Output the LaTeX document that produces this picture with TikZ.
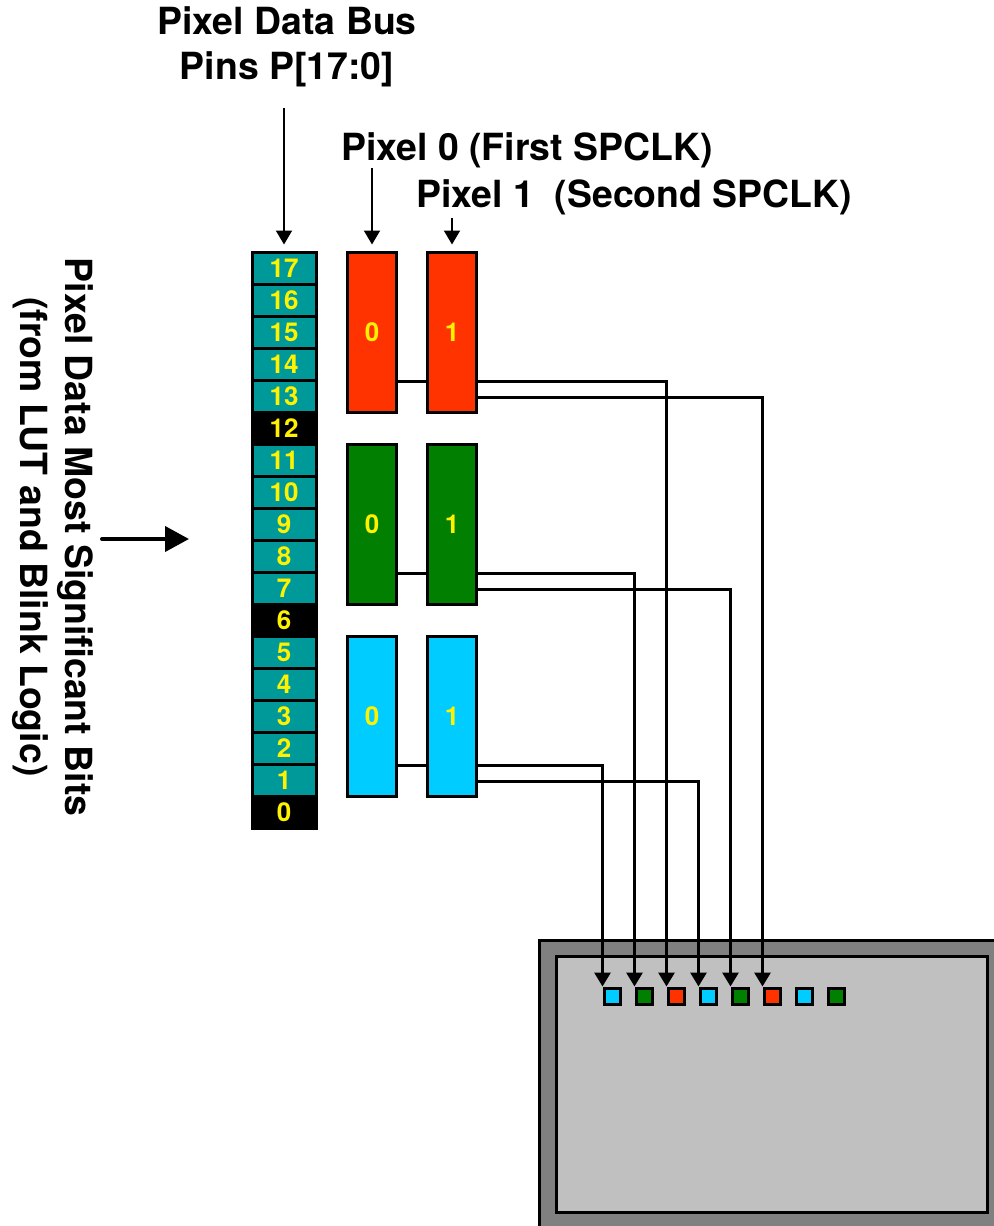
\documentclass[tikz,border=0pt]{standalone}
\usepackage{fontspec}
\setmainfont{TeX Gyre Heros}
\usetikzlibrary{arrows.meta}

\definecolor{busteal}{HTML}{009999}
\definecolor{pxred}{HTML}{FF3300}
\definecolor{pxgreen}{HTML}{007F00}
\definecolor{pxblue}{HTML}{00CCFF}
\definecolor{dispdark}{HTML}{808080}
\definecolor{displight}{HTML}{C0C0C0}

\tikzset{
    bitcell/.style={draw, line width=1.5pt, minimum width=32pt, minimum height=16pt,
        inner sep=0pt, text=yellow, font=\bfseries\fontsize{13}{15}\selectfont},
    pixbox/.style={draw, line width=1.5pt, minimum width=24.5pt, minimum height=80pt,
        inner sep=0pt, text=yellow, font=\bfseries\fontsize{13}{15}\selectfont},
    dotcell/.style={draw, line width=1.5pt, minimum size=8pt, inner sep=0pt},
    biglabel/.style={font=\bfseries\fontsize{18.7}{22.5}\selectfont, inner sep=0pt},
    pinarrow/.style={line width=1pt, -{Triangle[length=7pt,width=8pt]}},
    wire/.style={line width=1.5pt},
    wirearrow/.style={line width=1.5pt, -{Triangle[length=7pt,width=8pt]}}
}

\begin{document}
\begin{tikzpicture}[x=0.5pt, y=-0.5pt]
    \useasboundingbox (0,0) rectangle (994,1226);

    % Display panel
    \draw[line width=1.5pt, fill=dispdark] (539,940) rectangle (1000,1232);
    \draw[line width=1.5pt, fill=displight] (556,956) rectangle (987,1212);

    % Pixel data bus pins
    \foreach \b in {0,...,17} {
        \pgfmathtruncatemacro\m{mod(\b,6)}
        \ifnum\m=0 \def\cf{black}\else\def\cf{busteal}\fi
        \node[bitcell, fill=\cf] (b\b) at (284, {268+(17-\b)*32}) {\b};
    }

    % Pixel 0 and pixel 1 colour groups
    \foreach \col/\yc/\nm in {pxred/332/r, pxgreen/524/g, pxblue/716/b} {
        \node[pixbox, fill=\col] (\nm0) at (372,\yc) {0};
        \node[pixbox, fill=\col] (\nm1) at (452,\yc) {1};
    }

    % Display pixels
    \foreach \i/\col in {1/pxblue, 2/pxgreen, 3/pxred, 4/pxblue, 5/pxgreen, 6/pxred, 7/pxblue, 8/pxgreen} {
        \node[dotcell, fill=\col] (d\i) at ({612+(\i-1)*32}, 996) {};
    }

    % Wires to the display
    \foreach \nm/\up/\lo in {r/3/6, g/2/5, b/1/4} {
        \draw[wire] ([yshift=16pt]\nm0.south east) -- ([yshift=16pt]\nm1.south west);
        \draw[wirearrow] ([yshift=16pt]\nm1.south east) -| (d\up.north west);
        \draw[wirearrow] ([yshift=8pt]\nm1.south east) -| (d\lo.north west);
    }

    % Labels
    \node[biglabel, align=center] (bus) at (287,47) {Pixel Data Bus\\Pins P[17:0]};
    \node[biglabel] (first) at (527,150) {Pixel 0 (First SPCLK)};
    \node[biglabel] (second) at (634,197) {Pixel 1\ \ (Second SPCLK)};
    \node[biglabel, align=center, rotate=-90] (msb) at (53,537)
        {Pixel Data Most Significant Bits\\(from LUT and Blink Logic)};

    \coordinate (bustail) at (284,108);
    \coordinate (firsttail) at (372,168);
    \coordinate (secondtail) at (452,218);
    \draw[pinarrow] (bustail) -- ([yshift=3pt]b17.north);
    \draw[pinarrow] (firsttail) -- ([yshift=3pt]r0.north);
    \draw[pinarrow] (secondtail) -- ([yshift=3pt]r1.north);

    % MSB input arrow
    \coordinate (msbtail) at (102,539);
    \coordinate (msbtip) at (189,539);
    \draw[line width=2pt, line cap=round, -{Triangle[length=12pt,width=12.5pt]}] (msbtail) -- (msbtip);
\end{tikzpicture}
\end{document}
